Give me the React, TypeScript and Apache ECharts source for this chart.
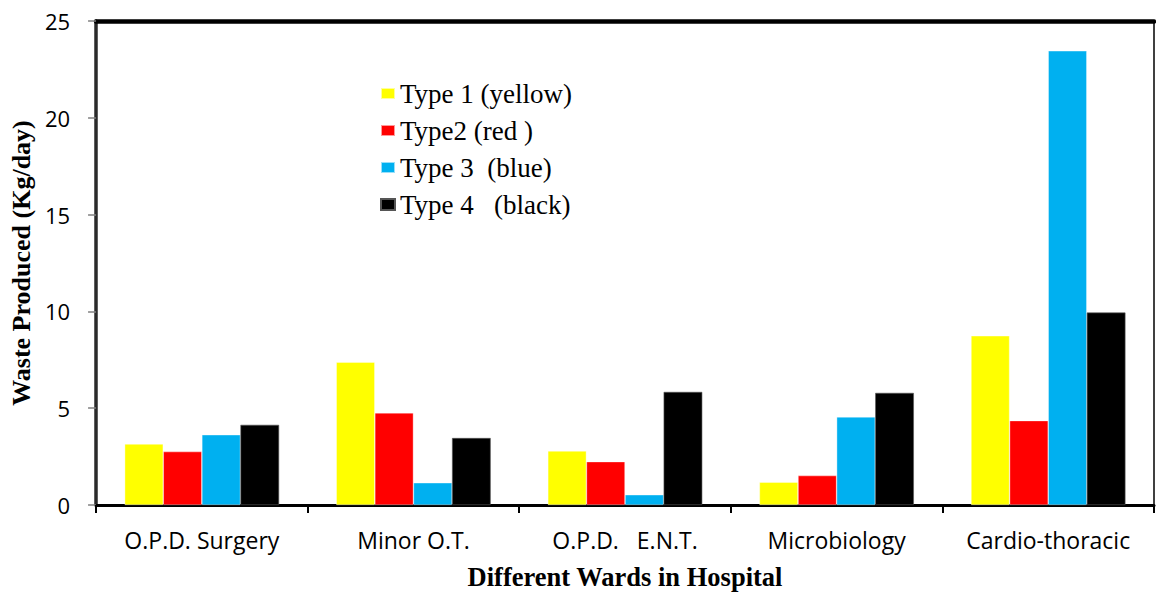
import React, { useEffect, useRef } from "react";
import * as echarts from "echarts";

// Wards on the x axis
const wards = ["O.P.D. Surgery", "Minor O.T.", "O.P.D.   E.N.T.", "Microbiology", "Cardio-thoracic"];

// Waste produced per ward (Kg/day), one array per waste type
const type1Yellow = [3.15, 7.38, 2.79, 1.18, 8.74];
const type2Red = [2.76, 4.76, 2.24, 1.52, 4.36];
const type3Blue = [3.63, 1.15, 0.53, 4.55, 23.46];
const type4Black = [4.14, 3.46, 5.84, 5.79, 9.94];

const seriesNames = ["Type 1 (yellow)", "Type2 (red )", "Type 3  (blue)", "Type 4   (black)"];
const seriesColors = ["#FFFF00", "#FF0000", "#00B0F0", "#000000"];

const yMin = 0;
const yMax = 25;
const yStep = 5;

export default function App() {
  const ref = useRef<HTMLDivElement>(null);

  useEffect(() => {
    if (!ref.current) return;
    const chart = echarts.init(ref.current, null, { renderer: "svg" });
    const values = [type1Yellow, type2Red, type3Blue, type4Black];

    chart.setOption({
      animation: false,
      backgroundColor: "#ffffff",
      grid: { left: 96, right: 2, top: 21, bottom: 87, containLabel: false },
      legend: {
        orient: "vertical",
        left: 380,
        top: 80,
        padding: 0,
        itemWidth: 14,
        itemHeight: 11,
        itemGap: 10,
        icon: "rect",
        textStyle: {
          fontFamily: "Liberation Serif",
          fontSize: 27,
          lineHeight: 26,
          color: "#000",
          padding: [0, 0, 0, 0],
        },
        data: seriesNames,
      },
      xAxis: [
        {
          type: "category",
          data: wards,
          position: "bottom",
          name: "Different Wards in Hospital",
          nameLocation: "middle",
          nameGap: 58,
          nameTextStyle: {
            fontFamily: "Liberation Serif",
            fontWeight: "bold",
            fontSize: 26.5,
            color: "#000",
          },
          axisLine: { show: true, onZero: false, lineStyle: { color: "#000", width: 3 } },
          axisTick: { show: true, alignWithLabel: false, length: 8, lineStyle: { color: "#000", width: 2 } },
          axisLabel: {
            fontFamily: "Open Sans",
            fontSize: 23,
            color: "#000",
            margin: 23,
            interval: 0,
          },
          splitLine: { show: false },
        },
        {
          type: "category",
          data: wards,
          position: "top",
          axisLine: { show: true, onZero: false, lineStyle: { color: "#000", width: 4.5 } },
          axisTick: { show: false },
          axisLabel: { show: false },
          splitLine: { show: false },
        },
      ],
      yAxis: [
        {
          type: "value",
          min: yMin,
          max: yMax,
          interval: yStep,
          position: "left",
          name: "Waste Produced (Kg/day)",
          nameLocation: "middle",
          nameGap: 62,
          nameTextStyle: {
            fontFamily: "Liberation Serif",
            fontWeight: "bold",
            fontSize: 26,
            color: "#000",
          },
          axisLine: { show: true, onZero: false, lineStyle: { color: "#2a2a2a", width: 3.5 } },
          axisTick: { show: true, length: 8, lineStyle: { color: "#808080", width: 1.5 } },
          axisLabel: {
            fontFamily: "Open Sans",
            fontSize: 22,
            color: "#000",
            margin: 26,
          },
          splitLine: { show: false },
        },
        {
          type: "value",
          min: yMin,
          max: yMax,
          interval: yStep,
          position: "right",
          axisLine: { show: true, onZero: false, lineStyle: { color: "#000", width: 1.5 } },
          axisTick: { show: false },
          axisLabel: { show: false },
          splitLine: { show: false },
        },
      ],
      series: seriesNames.map((name, i) => ({
        name,
        type: "bar",
        xAxisIndex: 0,
        yAxisIndex: 0,
        data: values[i],
        barGap: "0%",
        barCategoryGap: "27%",
        itemStyle: {
          color: seriesColors[i],
          borderColor: i === 3 ? "#555" : "rgba(255,255,255,0.6)",
          borderWidth: 0.6,
        },
      })),
    });

    return () => chart.dispose();
  }, []);

  return (
    <div
      ref={ref}
      style={{ position: "fixed", left: 0, top: 0, width: 1156, height: 595, background: "#fff" }}
    />
  );
}
